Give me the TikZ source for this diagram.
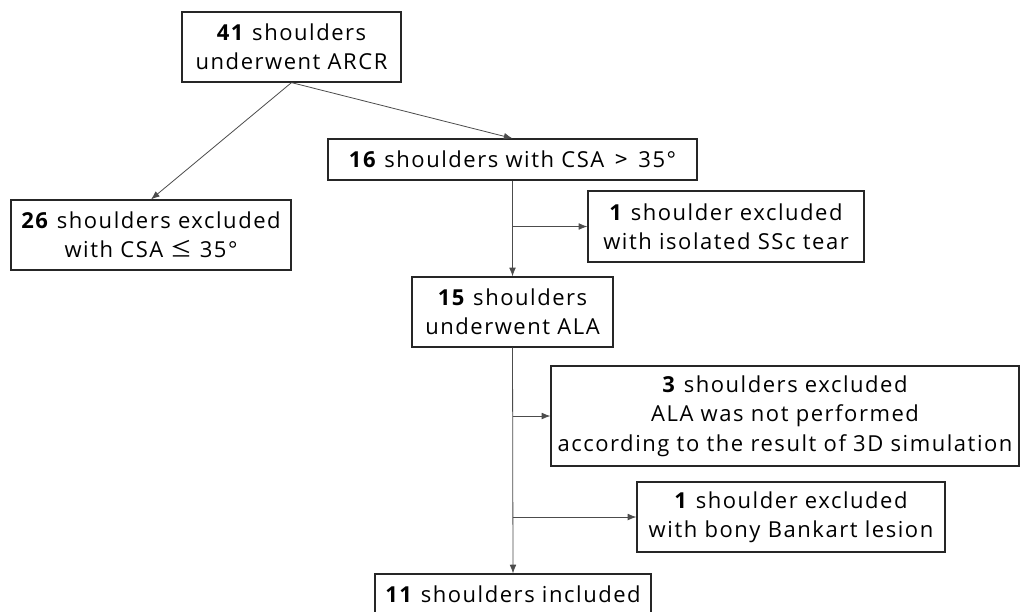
\documentclass[tikz,border=0pt]{standalone}
\usepackage{fontspec}
\setmainfont{Open Sans}[LetterSpace=7]
\newfontfamily\symfont{Noto Sans CJK JP}[LetterSpace=7]
\usetikzlibrary{arrows.meta}
\begin{document}
\begin{tikzpicture}[x=0.75pt,y=-0.75pt,
  box/.style={draw=black!85, line width=0.9pt, rectangle, align=center, inner sep=0pt,
    font=\fontsize{16.5}{22}\selectfont},
  conn/.style={draw=black!70, line width=0.6pt, -{Latex[length=6.5pt,width=5pt]}}]
\useasboundingbox (0,0) rectangle (1020,611);
\fill[white] (0,0) rectangle (1020,611);
\node[box, minimum width=219*0.75pt, minimum height=70*0.75pt] (A) at (291.5,47) {\textbf{41} shoulders\\underwent ARCR};
\node[box, minimum width=369*0.75pt, minimum height=41*0.75pt] (B) at (512.5,159.5) {\textbf{16} shoulders with CSA \,{\symfont >}\, 35°};
\node[box, minimum width=280*0.75pt, minimum height=70*0.75pt] (C) at (151,235) {\textbf{26} shoulders excluded\\with CSA {\symfont ≤} 35°};
\node[box, minimum width=276*0.75pt, minimum height=71*0.75pt] (D) at (726,226.5) {\textbf{1} shoulder excluded\\with isolated SSc tear};
\node[box, minimum width=201*0.75pt, minimum height=70*0.75pt] (E) at (512.5,312) {\textbf{15} shoulders\\underwent ALA};
\node[box, minimum width=468*0.75pt, minimum height=100*0.75pt] (F) at (785,416) {\textbf{3} shoulders excluded\\ALA was not performed\\according to the result of 3D simulation};
\node[box, minimum width=308*0.75pt, minimum height=70*0.75pt] (G) at (791,517) {\textbf{1} shoulder excluded\\with bony Bankart lesion};
\node[box, minimum width=276*0.75pt, minimum height=40*0.75pt] (H) at (513,594) {\textbf{11} shoulders included};
\draw[conn] (A.south) -- (B.north);
\draw[conn] (A.south) -- (C.north);
\draw[conn] (B.south) -- (E.north);
\draw[conn] (E.north |- D.west) -- (D.west);
\draw[conn] (E.south) -- (H.north);
\draw[conn] (E.south |- F.west) -- (F.west);
\draw[conn] (E.south |- G.west) -- (G.west);
\end{tikzpicture}
\end{document}
